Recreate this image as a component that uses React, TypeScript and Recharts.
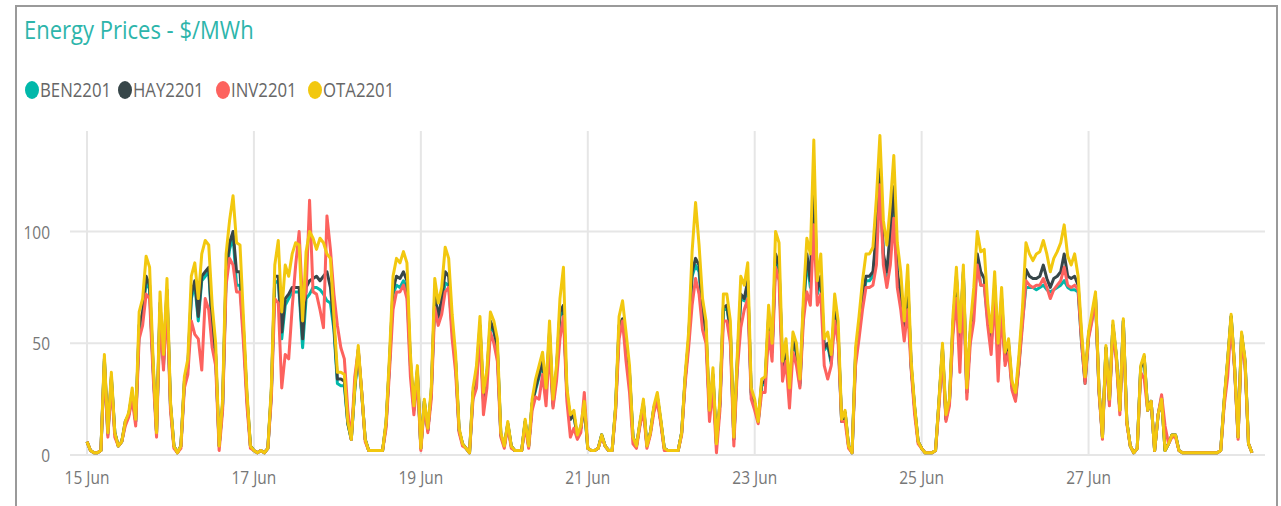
import React from 'react';
import { LineChart, Line, XAxis, YAxis, CartesianGrid } from 'recharts';

// Hourly prices, 15 Jun 00:00 .. 28 Jun 23:00 (one row per day, 24 values each)
const BEN2201 = [
  6, 2, 1, 1, 2, 42, 9, 34, 10, 4, 6, 14, 18, 27, 15, 56, 62, 78, 74, 39, 10, 66, 40, 72,
  22, 4, 1, 4, 32, 39, 70, 76, 60, 78, 80, 82, 56, 44, 4, 22, 80, 92, 98, 76, 76, 54, 25, 4,
  2, 1, 2, 1, 3, 27, 77, 78, 52, 67, 70, 73, 73, 73, 48, 70, 72, 75, 75, 74, 72, 69, 68, 56,
  32, 31, 31, 14, 7, 29, 46, 27, 7, 2, 2, 2, 2, 2, 14, 41, 72, 76, 75, 78, 74, 40, 20, 37,
  3, 24, 11, 28, 70, 60, 68, 77, 76, 56, 41, 11, 5, 3, 1, 27, 35, 57, 24, 35, 58, 55, 47, 9,
  4, 14, 4, 2, 2, 2, 15, 4, 23, 29, 35, 41, 27, 54, 22, 37, 62, 66, 27, 16, 18, 8, 12, 22,
  3, 2, 2, 3, 9, 4, 2, 2, 21, 57, 60, 49, 36, 8, 4, 14, 23, 4, 10, 21, 26, 15, 3, 2,
  2, 2, 2, 10, 34, 51, 80, 85, 82, 62, 55, 19, 35, 5, 23, 65, 66, 55, 7, 41, 70, 69, 76, 27,
  23, 15, 31, 32, 61, 46, 88, 83, 39, 47, 27, 51, 45, 31, 64, 87, 75, 122, 72, 78, 47, 49, 41, 64,
  53, 15, 19, 4, 1, 44, 56, 68, 78, 78, 80, 97, 125, 88, 80, 98, 117, 80, 70, 54, 76, 39, 21, 6,
  3, 1, 1, 1, 2, 24, 47, 16, 24, 57, 79, 51, 81, 28, 54, 68, 88, 76, 76, 60, 49, 75, 45, 68,
  42, 49, 30, 25, 41, 60, 75, 75, 75, 74, 75, 76, 74, 73, 74, 75, 76, 78, 75, 74, 74, 73, 50, 32,
  53, 61, 70, 29, 8, 48, 24, 58, 44, 20, 60, 15, 4, 1, 3, 39, 44, 20, 24, 2, 18, 26, 2, 5,
  9, 9, 2, 1, 1, 1, 1, 1, 1, 1, 1, 1, 1, 1, 2, 24, 42, 62, 39, 8, 54, 42, 5, 1,
];

const HAY2201 = [
  6, 2, 1, 1, 2, 43, 10, 35, 10, 4, 6, 15, 18, 28, 15, 58, 64, 80, 76, 40, 10, 68, 42, 74,
  23, 4, 1, 4, 33, 40, 72, 78, 62, 80, 82, 84, 58, 45, 4, 23, 82, 95, 100, 82, 82, 56, 26, 4,
  2, 1, 2, 1, 3, 28, 80, 80, 55, 70, 72, 75, 75, 75, 52, 75, 78, 79, 80, 78, 80, 82, 75, 58,
  34, 34, 33, 14, 7, 30, 47, 28, 7, 2, 2, 2, 2, 2, 14, 42, 74, 80, 79, 82, 78, 42, 21, 38,
  3, 24, 11, 28, 72, 62, 70, 82, 80, 58, 42, 11, 5, 3, 1, 28, 36, 58, 25, 36, 60, 56, 48, 9,
  4, 14, 4, 2, 2, 2, 15, 4, 23, 30, 36, 42, 28, 55, 23, 38, 64, 67, 28, 16, 18, 8, 12, 22,
  3, 2, 2, 3, 9, 4, 2, 2, 21, 58, 61, 50, 37, 8, 4, 14, 23, 4, 10, 21, 26, 15, 3, 2,
  2, 2, 2, 10, 34, 52, 82, 88, 85, 64, 56, 19, 36, 5, 23, 66, 67, 56, 7, 42, 72, 70, 78, 28,
  23, 15, 32, 33, 62, 47, 90, 85, 40, 48, 28, 52, 46, 32, 66, 90, 78, 125, 74, 80, 48, 50, 42, 66,
  55, 15, 19, 4, 1, 45, 58, 70, 80, 80, 82, 100, 128, 90, 82, 100, 120, 82, 72, 55, 78, 40, 21, 6,
  3, 1, 1, 1, 2, 24, 48, 16, 24, 58, 80, 52, 82, 28, 55, 70, 90, 82, 79, 62, 50, 76, 46, 70,
  43, 50, 31, 26, 42, 62, 83, 80, 79, 79, 80, 85, 79, 75, 79, 80, 82, 90, 80, 79, 80, 76, 52, 33,
  54, 62, 71, 29, 8, 48, 24, 58, 44, 20, 60, 15, 4, 1, 3, 39, 44, 20, 24, 2, 18, 25, 2, 5,
  9, 9, 2, 1, 1, 1, 1, 1, 1, 1, 1, 1, 1, 1, 2, 24, 42, 62, 39, 8, 54, 42, 5, 1,
];

const INV2201 = [
  6, 2, 1, 1, 2, 40, 8, 32, 8, 4, 6, 13, 17, 25, 13, 52, 58, 72, 70, 36, 8, 62, 38, 68,
  20, 3, 1, 3, 30, 36, 60, 54, 52, 38, 70, 65, 48, 40, 2, 20, 76, 88, 85, 73, 73, 50, 22, 3,
  2, 1, 2, 1, 3, 25, 70, 68, 30, 45, 43, 66, 85, 100, 67, 73, 114, 73, 72, 65, 57, 107, 92, 72,
  58, 48, 43, 20, 7, 35, 47, 28, 6, 2, 2, 2, 2, 2, 12, 38, 65, 73, 73, 76, 70, 35, 18, 35,
  2, 22, 10, 25, 66, 58, 63, 73, 75, 52, 37, 10, 4, 3, 1, 25, 30, 55, 18, 30, 55, 50, 42, 8,
  3, 13, 3, 2, 2, 2, 13, 3, 20, 26, 25, 36, 22, 48, 21, 33, 52, 62, 24, 8, 12, 7, 10, 28,
  3, 2, 2, 3, 8, 4, 2, 2, 19, 52, 60, 42, 28, 5, 3, 13, 20, 3, 9, 19, 24, 14, 2, 2,
  2, 2, 2, 9, 32, 48, 67, 79, 72, 56, 50, 15, 30, 1, 20, 60, 60, 50, 4, 38, 57, 65, 70, 25,
  20, 14, 28, 28, 55, 42, 84, 78, 33, 42, 21, 46, 40, 30, 60, 73, 67, 103, 67, 72, 40, 34, 40, 60,
  50, 15, 15, 3, 1, 40, 52, 65, 75, 75, 76, 85, 121, 85, 75, 85, 106, 75, 65, 51, 65, 38, 18, 5,
  3, 1, 1, 1, 2, 22, 45, 15, 22, 54, 70, 37, 75, 25, 50, 60, 85, 76, 76, 58, 45, 72, 33, 65,
  40, 46, 29, 24, 40, 58, 78, 76, 75, 76, 76, 79, 75, 70, 74, 76, 78, 84, 76, 75, 76, 74, 50, 32,
  52, 60, 70, 28, 7, 47, 22, 56, 42, 18, 58, 14, 4, 1, 3, 37, 34, 20, 24, 2, 18, 27, 13, 5,
  8, 8, 2, 1, 1, 1, 1, 1, 1, 1, 1, 1, 1, 1, 2, 22, 35, 60, 38, 7, 52, 40, 5, 1,
];

const OTA2201 = [
  6, 2, 1, 1, 2, 45, 10, 37, 10, 4, 6, 15, 19, 30, 16, 64, 70, 89, 84, 43, 10, 73, 45, 79,
  24, 4, 1, 4, 35, 43, 80, 86, 70, 90, 96, 94, 67, 50, 4, 25, 90, 105, 116, 95, 94, 61, 28, 4,
  2, 1, 2, 1, 3, 30, 85, 96, 64, 85, 80, 90, 95, 94, 60, 91, 100, 97, 92, 97, 95, 90, 88, 62,
  37, 37, 36, 15, 7, 30, 49, 28, 7, 2, 2, 2, 2, 2, 15, 45, 80, 88, 86, 91, 86, 45, 22, 40,
  3, 25, 12, 30, 79, 68, 75, 93, 88, 63, 45, 12, 5, 3, 1, 30, 40, 62, 28, 38, 64, 60, 52, 10,
  4, 15, 4, 2, 2, 2, 16, 4, 25, 34, 40, 46, 30, 60, 25, 40, 70, 84, 30, 18, 20, 9, 13, 24,
  3, 2, 2, 3, 9, 4, 2, 2, 22, 62, 69, 55, 40, 8, 4, 15, 25, 4, 10, 22, 28, 16, 3, 2,
  2, 2, 2, 10, 36, 55, 91, 113, 94, 70, 60, 20, 39, 5, 25, 72, 72, 60, 8, 45, 80, 76, 86, 30,
  25, 15, 34, 35, 67, 50, 100, 95, 42, 52, 30, 55, 50, 34, 70, 97, 90, 141, 78, 90, 52, 55, 45, 72,
  60, 16, 20, 4, 1, 48, 62, 78, 90, 90, 93, 115, 143, 105, 94, 112, 134, 95, 82, 60, 85, 42, 22, 6,
  3, 1, 1, 1, 2, 25, 50, 18, 25, 62, 84, 55, 85, 30, 58, 75, 100, 91, 92, 68, 55, 82, 50, 75,
  46, 52, 33, 28, 45, 66, 95, 90, 87, 90, 91, 96, 90, 82, 88, 91, 95, 103, 89, 85, 90, 80, 55, 35,
  55, 64, 73, 30, 8, 49, 25, 60, 45, 20, 61, 15, 4, 1, 3, 40, 45, 20, 24, 2, 18, 25, 2, 5,
  9, 9, 2, 1, 1, 1, 1, 1, 1, 1, 1, 1, 1, 1, 2, 25, 43, 63, 40, 8, 55, 43, 5, 1,
];

const seriesNames = ['BEN2201', 'HAY2201', 'INV2201', 'OTA2201'];
const seriesColors = ['#01B8AA', '#374649', '#FD625E', '#F2C80F'];
const dayLabels = ['15 Jun', '16 Jun', '17 Jun', '18 Jun', '19 Jun', '20 Jun', '21 Jun',
  '22 Jun', '23 Jun', '24 Jun', '25 Jun', '26 Jun', '27 Jun', '28 Jun'];
const labelledDays = [0, 2, 4, 6, 8, 10, 12];
const yTicks = [0, 50, 100];
const HOURS_PER_DAY = 24;
const titleText = 'Energy Prices - $/MWh';

const seriesValues: Record<string, number[]> = { BEN2201, HAY2201, INV2201, OTA2201 };
const data = OTA2201.map((_, i) => {
  const row: Record<string, number> = { t: i };
  seriesNames.forEach((n) => { row[n] = seriesValues[n][i]; });
  return row;
});
const xTicks = labelledDays.map((d) => d * HOURS_PER_DAY);

const FONT = '"Segoe UI", "Open Sans", Roboto, sans-serif';
const SX = 0.86;

const XTick = (props: any) => {
  const { x, y, payload } = props;
  return (
    <text transform={`translate(${x},${y}) scale(${SX},1)`} textAnchor="middle"
      dominantBaseline="central" fontSize={18} fill="#777777" fontFamily={FONT}>
      {dayLabels[Math.round(payload.value / HOURS_PER_DAY)]}
    </text>
  );
};

const YTick = (props: any) => {
  const { x, y, payload } = props;
  return (
    <text transform={`translate(${x},${y}) scale(${SX},1)`} textAnchor="end"
      dominantBaseline="central" fontSize={18} fill="#777777" fontFamily={FONT}>
      {payload.value}
    </text>
  );
};

const legendMarkerX = [25, 118, 216, 308];

export default function App() {
  return (
    <div style={{ position: 'absolute', left: 0, top: 0, width: 1281, height: 506, background: '#fff', overflow: 'hidden' }}>
      <div style={{ position: 'absolute', left: 15, top: 5, width: 1263, height: 540, border: '2px solid #9a9a9a', boxSizing: 'border-box' }} />
      <div style={{ position: 'absolute', left: 24, top: 12, fontFamily: FONT, fontSize: 25, lineHeight: '34px', color: '#2DB5AB', whiteSpace: 'nowrap', transform: `scaleX(0.88)`, transformOrigin: 'left top' }}>
        {titleText}
      </div>
      {seriesNames.map((n, i) => (
        <div key={n} style={{ position: 'absolute', left: legendMarkerX[i], top: 76, height: 27, display: 'flex', alignItems: 'center' }}>
          <span style={{ display: 'inline-block', width: 14, height: 18, borderRadius: '50%', background: seriesColors[i] }} />
          <span style={{ display: 'inline-block', marginLeft: 1, fontFamily: FONT, fontSize: 19.5, color: '#666', whiteSpace: 'nowrap', transform: `scaleX(${SX})`, transformOrigin: 'left center' }}>{n}</span>
        </div>
      ))}
      <LineChart width={1281} height={506} data={data}
        margin={{ top: 131, right: 16, bottom: 21, left: 15 }}
        style={{ position: 'absolute', left: 0, top: 0 }}>
        <CartesianGrid stroke="#e6e6e6" strokeWidth={2}
          horizontalValues={yTicks} verticalValues={xTicks} />
        <XAxis dataKey="t" type="number" domain={[0, OTA2201.length - 1]} ticks={xTicks}
          padding={{ left: 17, right: 13 }} axisLine={false} tickLine={false}
          tickSize={0} tickMargin={22} height={30} tick={XTick} interval={0} />
        <YAxis type="number" domain={[0, 145]} ticks={yTicks} width={55} axisLine={false}
          tickLine={false} tickSize={0} tickMargin={20} tick={YTick} allowDataOverflow />
        {seriesNames.map((n, i) => (
          <Line key={n} type="linear" dataKey={n} stroke={seriesColors[i]} strokeWidth={3}
            dot={false} activeDot={false} isAnimationActive={false} strokeLinejoin="round" />
        ))}
      </LineChart>
    </div>
  );
}
